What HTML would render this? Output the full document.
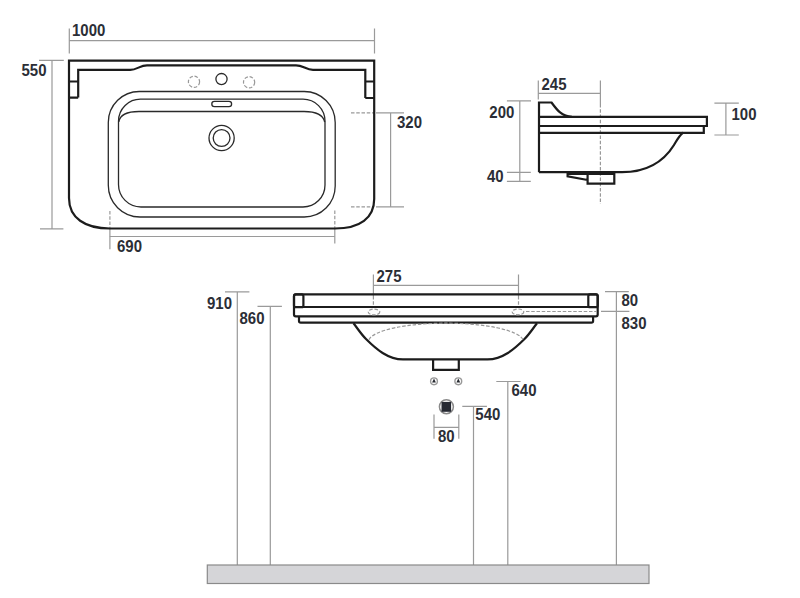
<!DOCTYPE html>
<html><head><meta charset="utf-8">
<style>
html,body{margin:0;padding:0;background:#fff;}
body{width:800px;height:598px;overflow:hidden;}
svg{display:block;}
text{font-family:"Liberation Sans",sans-serif;font-weight:bold;font-size:15px;fill:#2b2e36;}
.d{stroke:#9a9a9a;stroke-width:1.2;fill:none;}
.k{stroke:#1c1c1c;stroke-width:2.2;fill:none;stroke-linejoin:miter;}
.m{stroke:#2a2a2a;stroke-width:1.3;fill:none;}
.ds{stroke:#999;stroke-width:1.2;fill:none;stroke-dasharray:3.5 1.75;}
</style></head>
<body>
<svg width="800" height="598" viewBox="0 0 800 598">
<!-- ============ TOP VIEW ============ -->
<!-- dims -->
<path class="d" d="M69.3,28.5V53.5 M374.5,28.5V53.5 M69.3,40.6H374.5"/>
<text transform="translate(72.0,35.6) scale(1,1.1)">1000</text>
<path class="d" d="M39,60.3H63.8 M40,228.9H63.4 M52,60.3V228.9"/>
<text transform="translate(21.5,75.6) scale(1,1.1)">550</text>
<path class="d" d="M376,112.9H404 M376,206.9H404 M390.6,112.9V206.9"/>
<path class="ds" d="M351,112.9H374 M351,206.9H374"/>
<text transform="translate(397.0,127.7) scale(1,1.1)">320</text>
<path class="ds" d="M109.9,210.9V228 M334.8,210.5V228"/>
<path class="d" d="M109.9,228V249.3 M334.8,228V243.6"/>
<path class="d" d="M109.8,236.5H334.8"/>
<text transform="translate(117.0,251.9) scale(1,1.1)">690</text>
<!-- sink outline -->
<path class="k" d="M69,98 V60.6 H374.2 V199 C374.2,218 360,228.5 335,228.5 H110 C85,228.5 69,218 69,198 Z"/>
<path class="k" stroke-width="1.7" d="M78.2,97.6 V69.9 H130.2 C137,69.9 140,65.3 147,65.3 H296 C303,65.3 306,69.9 313,69.9 H365.3 V98"/>
<path class="k" stroke-width="1.7" d="M69,81.5 H78.2 M69,97.7 H78.2 M365.3,81.5 H374.2 M365.3,98 H374.2"/>
<!-- holes -->
<circle cx="221.5" cy="79.1" r="5.6" class="m"/>
<circle cx="194" cy="81.8" r="5.6" class="ds" stroke-dasharray="2 1.5"/>
<circle cx="249.1" cy="82.3" r="5.6" class="ds" stroke-dasharray="2 1.5"/>
<!-- bowl -->
<path class="m" d="M140,91.5 H304 A31,31 0 0 1 335.2,122.5 V186 A31,31 0 0 1 304,217 H140 A31.7,31.7 0 0 1 108.3,185.3 V122.5 A31,31 0 0 1 140,91.5 Z"/>
<path class="m" d="M141,99.2 H303 A22,22 0 0 1 325,121.2 V185 A22,22 0 0 1 303,207 H141 A22.5,22.5 0 0 1 118.5,184.5 V121.2 A22,22 0 0 1 141,99.2 Z"/>
<path class="m" d="M118.8,122 C120,114 128,111.5 139,111.5 H304 C315,111.5 323,114 324.7,122"/>
<rect x="211.8" y="101.3" width="19.8" height="5.3" rx="2.6" class="m"/>
<circle cx="221.6" cy="138" r="12.6" class="m"/>
<circle cx="221.6" cy="138" r="8.4" class="m"/>

<!-- ============ SIDE VIEW ============ -->
<path class="d" d="M538.3,80.6V99.4 M600.4,80.6V104 M538.3,93.4H600.4"/>
<path class="ds" d="M600.4,104V204" stroke="#888" stroke-width="1.1" stroke-dasharray="2.5 1.6"/>
<text transform="translate(541.5,89.9) scale(1,1.1)">245</text>
<path class="d" d="M506.9,100.9H531 M506.9,172.4H530.8 M506.9,181.3H530.8 M519.8,100.9V181.5"/>
<text transform="translate(489.3,117.8) scale(1,1.1)">200</text>
<text transform="translate(487.0,182.4) scale(1,1.1)">40</text>
<path class="d" d="M714.4,103.1H738.8 M714.4,135H738.8 M725.9,103.1V135"/>
<text transform="translate(731.5,119.9) scale(1,1.1)">100</text>
<path class="k" d="M539,172.2 V102.5 H551.5 C557,110 562,116.8 572,116.8 H706.9 V126 H703.8 V132.9 H682.8 C679,136 677,140 674,145 C664,161 648,172.2 622,172.2 H539"/>
<path class="k" d="M539,116.8 H572 M539,126 H703.8 M539,132.9 H682.8"/>
<path class="k" d="M567.6,172.5 V176.4 L587.6,180 M587.6,173.2 V183.6 H614.3 V172.5 M567.6,173.9 H614.3"/>

<!-- ============ FRONT VIEW ============ -->
<path class="d" d="M225,291.9H249.4 M237.3,291.9V565"/>
<text transform="translate(207.0,309.4) scale(1,1.1)">910</text>
<path class="d" d="M257.5,306.3H281.9 M270.3,306.3V565"/>
<text transform="translate(239.5,324.4) scale(1,1.1)">860</text>
<path class="d" d="M373.4,274.4V296 M518.5,274.4V296 M373.4,285.4H518.5"/>
<path class="ds" d="M373.4,296V306 M518.5,296V306"/>
<text transform="translate(376.5,281.9) scale(1,1.1)">275</text>
<path class="d" d="M605,291.6H628.8 M601,311.3H629.4 M616.4,291.6V565"/>
<text transform="translate(621.5,306.2) scale(1,1.1)">80</text>
<text transform="translate(621.5,328.7) scale(1,1.1)">830</text>
<path class="d" d="M496.3,381.5H520.6 M507.8,381.5V565"/>
<text transform="translate(511.5,395.6) scale(1,1.1)">640</text>
<path class="d" d="M462.3,406.3H486.9 M473.5,406.3V565"/>
<text transform="translate(475.3,420.2) scale(1,1.1)">540</text>
<path class="d" d="M434,414.4V438.8 M458.8,414.4V438.8 M434,427.3H458.8"/>
<text transform="translate(438.0,442.4) scale(1,1.1)">80</text>
<!-- body -->
<rect x="294" y="294.3" width="303.7" height="22" rx="1.8" class="k"/>
<path class="k" d="M294,307 H597.7"/>
<rect x="294" y="294.3" width="9.4" height="12.9" rx="1.8" class="k"/>
<rect x="588.3" y="294.3" width="9.4" height="12.9" rx="1.8" class="k"/>
<path class="k" stroke-linejoin="round" d="M299,316.3 V321 Q299,322.7 300.8,322.7 H591.3 Q593.1,322.7 593.1,321 V316.3"/>
<path class="k" d="M353.5,323.3 C358,329 361,334 366,339 C376,349 388,359.4 403,359.4 H487.5 C502.5,359.4 514.5,349 524.5,339 C529.5,334 532.5,329 537,323.3"/>
<path class="k" d="M433.1,359.4 V369.8 H458.8 V359.4"/>
<path class="ds" d="M368.9,339.7 A77.5,18.5 0 0 1 523,339.7" stroke="#6a6a6a" stroke-width="1" stroke-dasharray="2.6 1.8"/>
<ellipse cx="374" cy="312" rx="5.8" ry="2.9" class="ds" stroke-dasharray="1.3 1.2" stroke="#555" stroke-width="1"/>
<ellipse cx="518" cy="311.9" rx="5.8" ry="2.9" class="ds" stroke-dasharray="1.3 1.2" stroke="#555" stroke-width="1"/>
<path class="ds" d="M526,311.5 H597" stroke="#5a5a5a" stroke-width="1.1" stroke-dasharray="3 2"/>
<!-- fittings -->
<circle cx="434" cy="381.3" r="3.4" fill="#fff" stroke="#999" stroke-width="1.4"/>
<path d="M432.1,382.5 L434,378.6 L435.9,382.5 Z" fill="#25282f"/>
<circle cx="458.3" cy="381.3" r="3.4" fill="#fff" stroke="#999" stroke-width="1.4"/>
<path d="M456.4,382.5 L458.3,378.6 L460.2,382.5 Z" fill="#25282f"/>
<circle cx="446.4" cy="406.7" r="7" fill="#fff" stroke="#8a8a8a" stroke-width="1.5"/>
<rect x="441.5" y="401.9" width="9.6" height="9.9" fill="#262932"/>
<!-- floor -->
<rect x="207.3" y="565" width="441.7" height="18.5" fill="#d5d5d8" stroke="#8a8a8a" stroke-width="1.2"/>
</svg>
</body></html>
